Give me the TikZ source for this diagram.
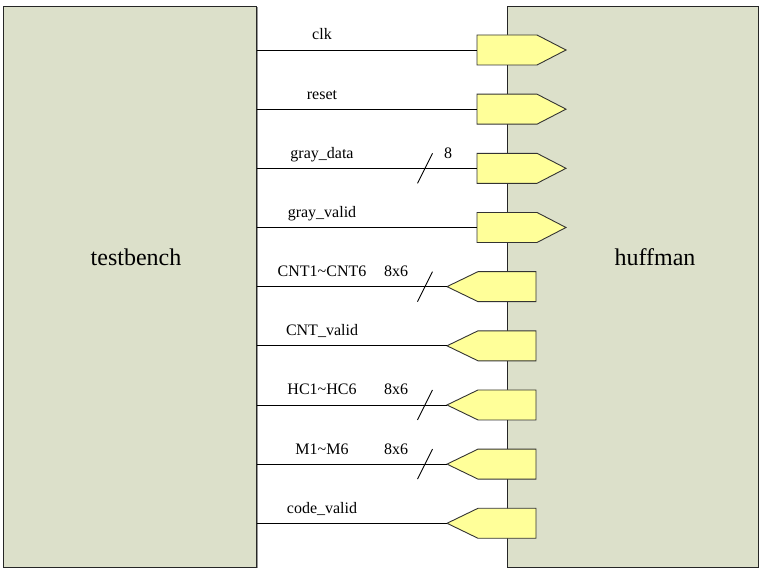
\documentclass[tikz,border=0pt]{standalone}
\usepackage{fontspec}
\setmainfont{Liberation Serif}
\definecolor{boxfill}{RGB}{220,224,202}
\definecolor{portfill}{RGB}{255,255,153}
\definecolor{shadowc}{RGB}{150,150,150}
\begin{document}
\begin{tikzpicture}[x=1pt,y=-1pt,
  box/.style={draw=black!85,fill=boxfill,line width=0.9pt,inner sep=0pt,anchor=north west},
  shadowbox/.style={fill=shadowc},
  port/.style={draw=black!80,fill=portfill,line width=0.9pt,line join=miter},
  wire/.style={draw=black,line width=0.9pt},
  sig/.style={font=\fontsize{16}{19}\selectfont,inner sep=0pt,anchor=base},
  title/.style={font=\fontsize{24}{28}\selectfont,inner sep=0pt},
  busmark/.style={draw=black,line width=0.9pt}]
\useasboundingbox (0,0) rectangle (763,575);
% shadows
\fill[shadowbox] (4.5,7.5) rectangle (257.8,568.3);
\fill[shadowbox] (508.5,7.5) rectangle (759.3,568.3);
% boxes
\node[box,minimum width=253pt,minimum height=561pt] (tb) at (3,6) {};
\node[box,minimum width=251pt,minimum height=561pt] (hm) at (507,6) {};
\node[title] (tbl) at (136,257) {testbench};
\node[title] (hml) at (655,257) {huffman};
% input ports
\foreach \i/\nm in {0/clk,1/reset,2/gray\_data,3/gray\_valid}{
  \pgfmathsetmacro\r{50+59.16*\i}
  \draw[port] (477,\r-15) -- (537,\r-15) -- (566,\r) -- (537,\r+15) -- (477,\r+15) -- cycle;
  \coordinate (in\i) at (477,\r);
  \draw[wire] (tb.east |- in\i) -- (in\i);
  \node[sig] (lab\i) at (322,\r-10) {\nm};
}
% output ports
\foreach \i/\nm in {4/CNT1\textasciitilde CNT6,5/CNT\_valid,6/HC1\textasciitilde HC6,7/M1\textasciitilde M6,8/code\_valid}{
  \pgfmathsetmacro\r{50+59.16*\i}
  \draw[port] (447,\r) -- (478,\r-15) -- (536,\r-15) -- (536,\r+15) -- (478,\r+15) -- cycle;
  \coordinate (out\i) at (447,\r);
  \draw[wire] (tb.east |- out\i) -- (out\i);
  \node[sig] (lab\i) at (322,\r-10) {\nm};
}
% bus width marks
\foreach \i in {2,4,7,6}{
  \pgfmathsetmacro\r{50+59.16*\i}
  \draw[busmark] (417.5,\r+15) -- (432.5,\r-15);
}
\node[sig] (w2) at (448,50+59.16*2-10) {8};
\foreach \i in {4,6,7}{
  \node[sig] (w\i) at (396,50+59.16*\i-10) {8x6};
}
\end{tikzpicture}
\end{document}
